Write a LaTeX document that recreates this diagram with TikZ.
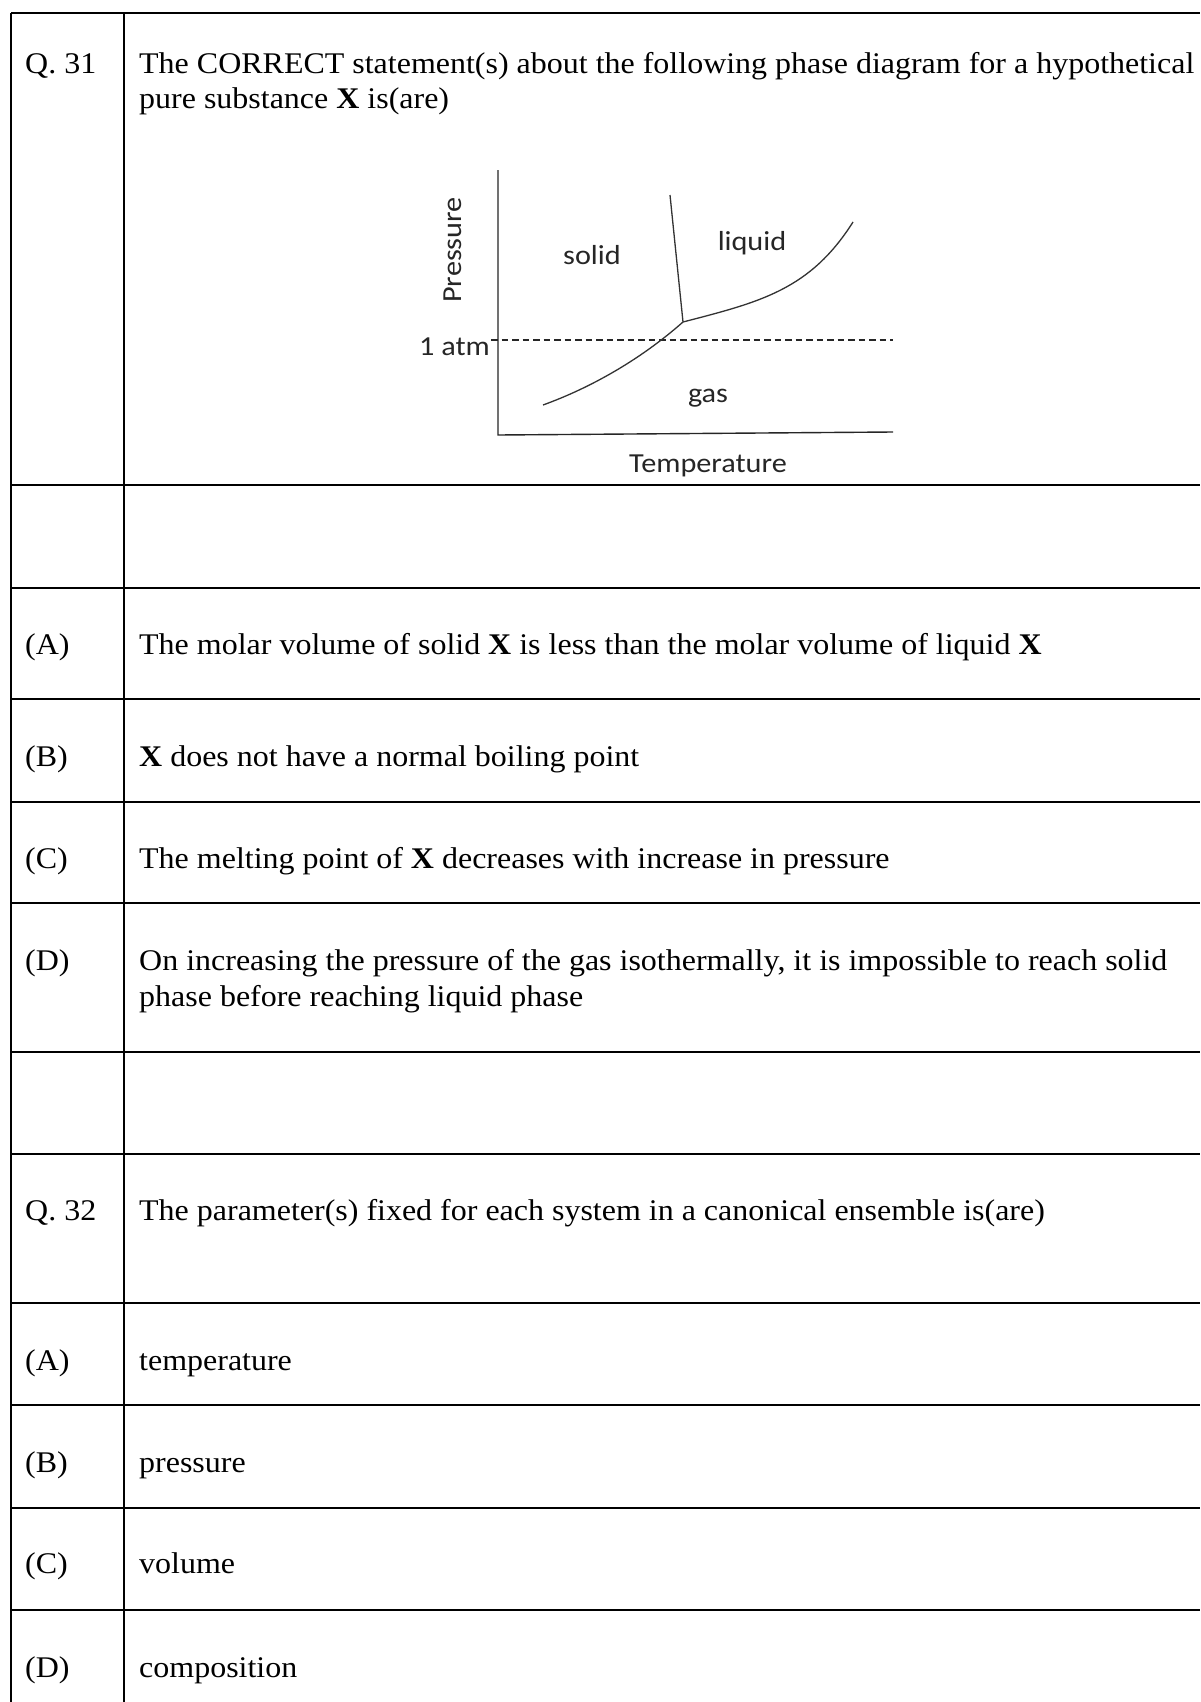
\documentclass[tikz,border=0pt]{standalone}
\usepackage{fontspec}
\setmainfont{Liberation Serif}[FakeStretch=1.066]
\newfontfamily\plotfont{Carlito}[FakeStretch=1.1]
\usetikzlibrary{positioning}
\tikzset{
    rowline/.style={line width=2pt},
    colline/.style={line width=1.3pt},
    qtext/.style={
        anchor=base west,
        inner sep=0pt,
        font=\fontsize{30}{35}\selectfont
    },
    plotlabel/.style={
        inner sep=0pt,
        text=black!85,
        font=\plotfont\fontsize{27.5}{33}\selectfont
    },
    axis/.style={line width=1.4pt, draw=black!85},
    curve/.style={line width=1.3pt, draw=black!80},
    atmline/.style={line width=1.4pt, draw=black!85, dash pattern=on 6.5pt off 4pt}
}

\begin{document}
\begin{tikzpicture}[x=1pt, y=-1pt]
            \useasboundingbox (0,0) rectangle (1200,1702);
            \fill[white] (0,0) rectangle (1200,1702);

            % table rules
            \foreach \yy in {13,485,588,699,802,903,1052,1154,1303,1405,1508,1610}
                \draw[rowline] (11,\yy) -- (1200,\yy);
            \draw[colline] (11,13) -- (11,1702);
            \draw[colline] (124,13) -- (124,1702);

            % Q. 31
            \node[qtext] (q31)   at (25,74)   {Q. 31};
            \node[qtext] (q31a)  at (139,74)  {The CORRECT statement(s) about the following phase diagram for a hypothetical};
            \node[qtext] (q31b)  at (139,108) {pure substance \textbf{X} is(are)};

            % phase diagram
            \draw[axis] (498,170) -- (498,435) -- (893,432);
            \draw[atmline] (491,340) -- (893,340);
            \coordinate (triple) at (683,322);
            \draw[curve] (670,195) -- (triple);
            \draw[curve] (543,405) .. controls (590,388) and (640,360) .. (triple);
            \draw[curve] (triple) .. controls (760,302) and (810,290) .. (853,222);

            \node[plotlabel, rotate=90]         (pres)   at (453,250) {Pressure};
            \node[plotlabel, anchor=base]       (temp)   at (708,472) {Temperature};
            \node[plotlabel, anchor=base]       (solid)  at (592,264) {solid};
            \node[plotlabel, anchor=base]       (liquid) at (752,250) {liquid};
            \node[plotlabel, anchor=base]       (gas)    at (708,402) {gas};
            \node[plotlabel, anchor=base east]  (atm)    at (490,355) {1 atm};

            % options of Q. 31
            \node[qtext] (q31A)  at (25,654)  {(A)};
            \node[qtext] (q31At) at (139,654) {The molar volume of solid \textbf{X} is less than the molar volume of liquid \textbf{X}};
            \node[qtext] (q31B)  at (25,766)  {(B)};
            \node[qtext] (q31Bt) at (139,766) {\textbf{X} does not have a normal boiling point};
            \node[qtext] (q31C)  at (25,868)  {(C)};
            \node[qtext] (q31Ct) at (139,868) {The melting point of \textbf{X} decreases with increase in pressure};
            \node[qtext] (q31D)  at (25,970)  {(D)};
            \node[qtext] (q31Da) at (139,970) {On increasing the pressure of the gas isothermally, it is impossible to reach solid};
            \node[qtext] (q31Db) at (139,1006) {phase before reaching liquid phase};

            % Q. 32
            \node[qtext] (q32)   at (25,1220)  {Q. 32};
            \node[qtext] (q32t)  at (139,1220) {The parameter(s) fixed for each system in a canonical ensemble is(are)};
            \node[qtext] (q32A)  at (25,1370)  {(A)};
            \node[qtext] (q32At) at (139,1370) {temperature};
            \node[qtext] (q32B)  at (25,1472)  {(B)};
            \node[qtext] (q32Bt) at (139,1472) {pressure};
            \node[qtext] (q32C)  at (25,1573)  {(C)};
            \node[qtext] (q32Ct) at (139,1573) {volume};
            \node[qtext] (q32D)  at (25,1677)  {(D)};
            \node[qtext] (q32Dt) at (139,1677) {composition};
        \end{tikzpicture}
\end{document}
